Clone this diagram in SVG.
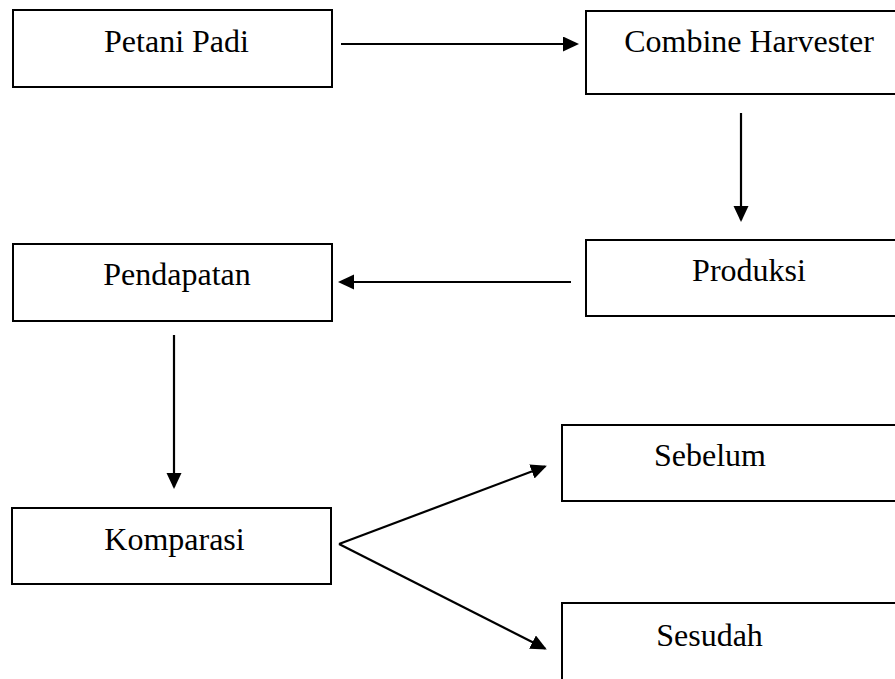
<svg xmlns="http://www.w3.org/2000/svg" width="895" height="679" viewBox="0 0 895 679">
<style>
.box{fill:#fff;stroke:#000;stroke-width:2}
.lbl{font-family:"Liberation Serif","Times New Roman",serif;font-size:32px;fill:#000;text-anchor:middle}
.con{stroke:#000;stroke-width:2.2;fill:none;marker-end:url(#ah)}
</style>
<defs>
<marker id="ah" markerUnits="userSpaceOnUse" markerWidth="17" markerHeight="16" refX="14" refY="7.5" orient="auto">
<path d="M0,0 L16,7.5 L0,15 z" fill="#000"/>
</marker>
</defs>
<rect width="895" height="679" fill="#fff"/>
<g id="petani-padi"><rect class="box" x="13" y="10" width="319" height="77"/><text class="lbl" x="176.5" y="52">Petani Padi</text></g>
<g id="combine-harvester"><rect class="box" x="586" y="11" width="320" height="83"/><text class="lbl" x="749" y="52">Combine Harvester</text></g>
<g id="produksi"><rect class="box" x="586" y="240" width="320" height="76"/><text class="lbl" x="749" y="281">Produksi</text></g>
<g id="pendapatan"><rect class="box" x="13" y="244" width="319" height="77"/><text class="lbl" x="177" y="285">Pendapatan</text></g>
<g id="komparasi"><rect class="box" x="12" y="508" width="319" height="76"/><text class="lbl" x="174.5" y="550">Komparasi</text></g>
<g id="sebelum"><rect class="box" x="562" y="425" width="344" height="76"/><text class="lbl" x="710" y="466">Sebelum</text></g>
<g id="sesudah"><rect class="box" x="562" y="603" width="344" height="90"/><text class="lbl" x="709.5" y="646">Sesudah</text></g>
<g id="connectors">
<line class="con" x1="341" y1="44" x2="577" y2="44"/>
<line class="con" x1="741" y1="113" x2="741" y2="220"/>
<line class="con" x1="571" y1="282" x2="340" y2="282"/>
<line class="con" x1="174" y1="335" x2="174" y2="487"/>
<line class="con" x1="339" y1="544" x2="545" y2="466.5"/>
<line class="con" x1="339" y1="544" x2="545" y2="648.5"/>
</g>
</svg>
